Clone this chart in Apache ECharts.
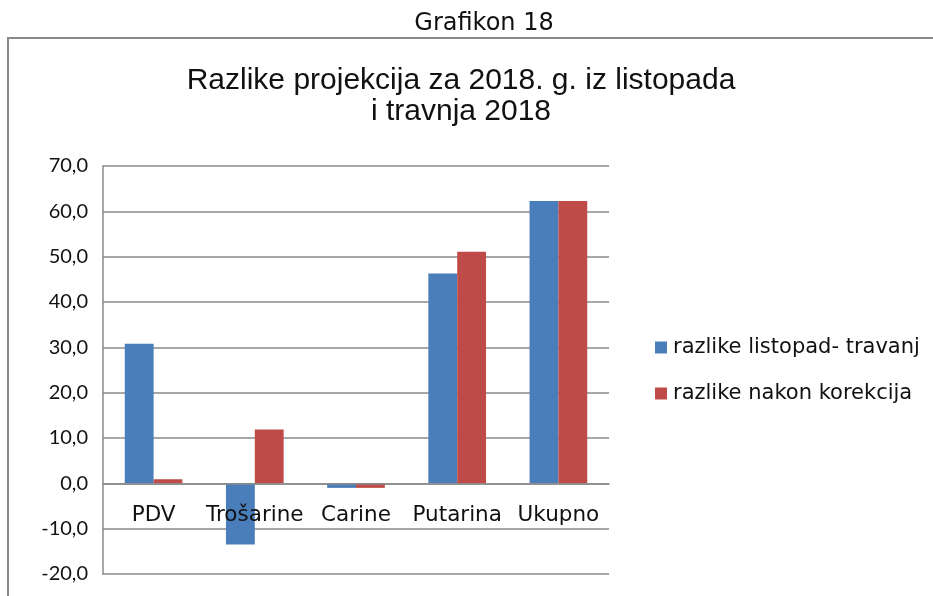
<!DOCTYPE html>
<html><head><meta charset="utf-8">
<script src="https://cdn.jsdelivr.net/npm/echarts@6/dist/echarts.min.js"></script>
<style>html,body{margin:0;padding:0;background:#fff}#c{width:933px;height:596px}</style>
</head><body><div id="c"></div>
<script>
const categories = ['PDV', 'Trošarine', 'Carine', 'Putarina', 'Ukupno'];
const seriesNames = ['razlike listopad- travanj', 'razlike nakon korekcija'];
const diffOctApr = [30.8, -13.5, -1.0, 46.3, 62.3];
const afterCorrection = [0.9, 11.9, -1.0, 51.1, 62.3];
const yMin = -20, yMax = 70, yStep = 10;

const gridTop = 166, gridBottom = 22, H = 596;
const gridH = H - gridTop - gridBottom;
const zeroOffset = gridH * (0 - yMin) / (yMax - yMin);

const chart = echarts.init(document.getElementById('c'), null, {renderer: 'canvas'});
chart.setOption({
  animation: false,
  backgroundColor: '#fff',
  graphic: [{
    type: 'rect', shape: {x: 8, y: 38, width: 940, height: 600},
    style: {fill: 'none', stroke: '#8a8a8a', lineWidth: 2}, silent: true
  }],
  title: [{
    text: 'Grafikon 18', left: 479, top: 7, textAlign: 'center',
    textStyle: {fontFamily: 'DejaVu Sans', fontSize: 24, fontWeight: 'normal', color: '#111'}
  }, {
    text: 'Razlike projekcija za 2018. g. iz listopada\ni travnja 2018', left: 456, top: 60, textAlign: 'center',
    textStyle: {fontFamily: 'Liberation Sans', fontSize: 30, fontWeight: 'normal', color: '#111', lineHeight: 31}
  }],
  legend: {
    orient: 'vertical', left: 650, top: 332, itemGap: 25, itemWidth: 12, itemHeight: 12,
    icon: 'rect',
    textStyle: {fontFamily: 'DejaVu Sans', fontSize: 21, color: '#111', padding: [0, 0, 0, 1]}
  },
  grid: {left: 103, right: 324, top: gridTop, bottom: gridBottom, containLabel: false, outerBoundsMode: 'none'},
  xAxis: {
    type: 'category', data: categories, z: 10,
    offset: -zeroOffset,
    axisLine: {onZero: false, lineStyle: {color: '#8a8a8a', width: 1.5}},
    axisTick: {show: false},
    axisLabel: {margin: 21, fontFamily: 'DejaVu Sans', fontSize: 21.5, color: '#111', interval: 0}
  },
  yAxis: {
    type: 'value', min: yMin, max: yMax, interval: yStep,
    axisLine: {show: true, lineStyle: {color: '#8a8a8a', width: 1.5}},
    axisTick: {show: false},
    splitLine: {lineStyle: {color: '#8a8a8a', width: 1.5}},
    axisLabel: {margin: 15, fontFamily: 'Lato', fontSize: 20, color: '#111',
      formatter: v => v.toFixed(1).replace('.', ',')}
  },
  series: [{
    name: seriesNames[0], type: 'bar', data: diffOctApr, barWidth: '28.5%', barGap: '0%',
    itemStyle: {color: '#4a7ebb'}
  }, {
    name: seriesNames[1], type: 'bar', data: afterCorrection, barWidth: '28.5%', barGap: '0%',
    itemStyle: {color: '#be4b48'}
  }]
});
</script></body></html>
